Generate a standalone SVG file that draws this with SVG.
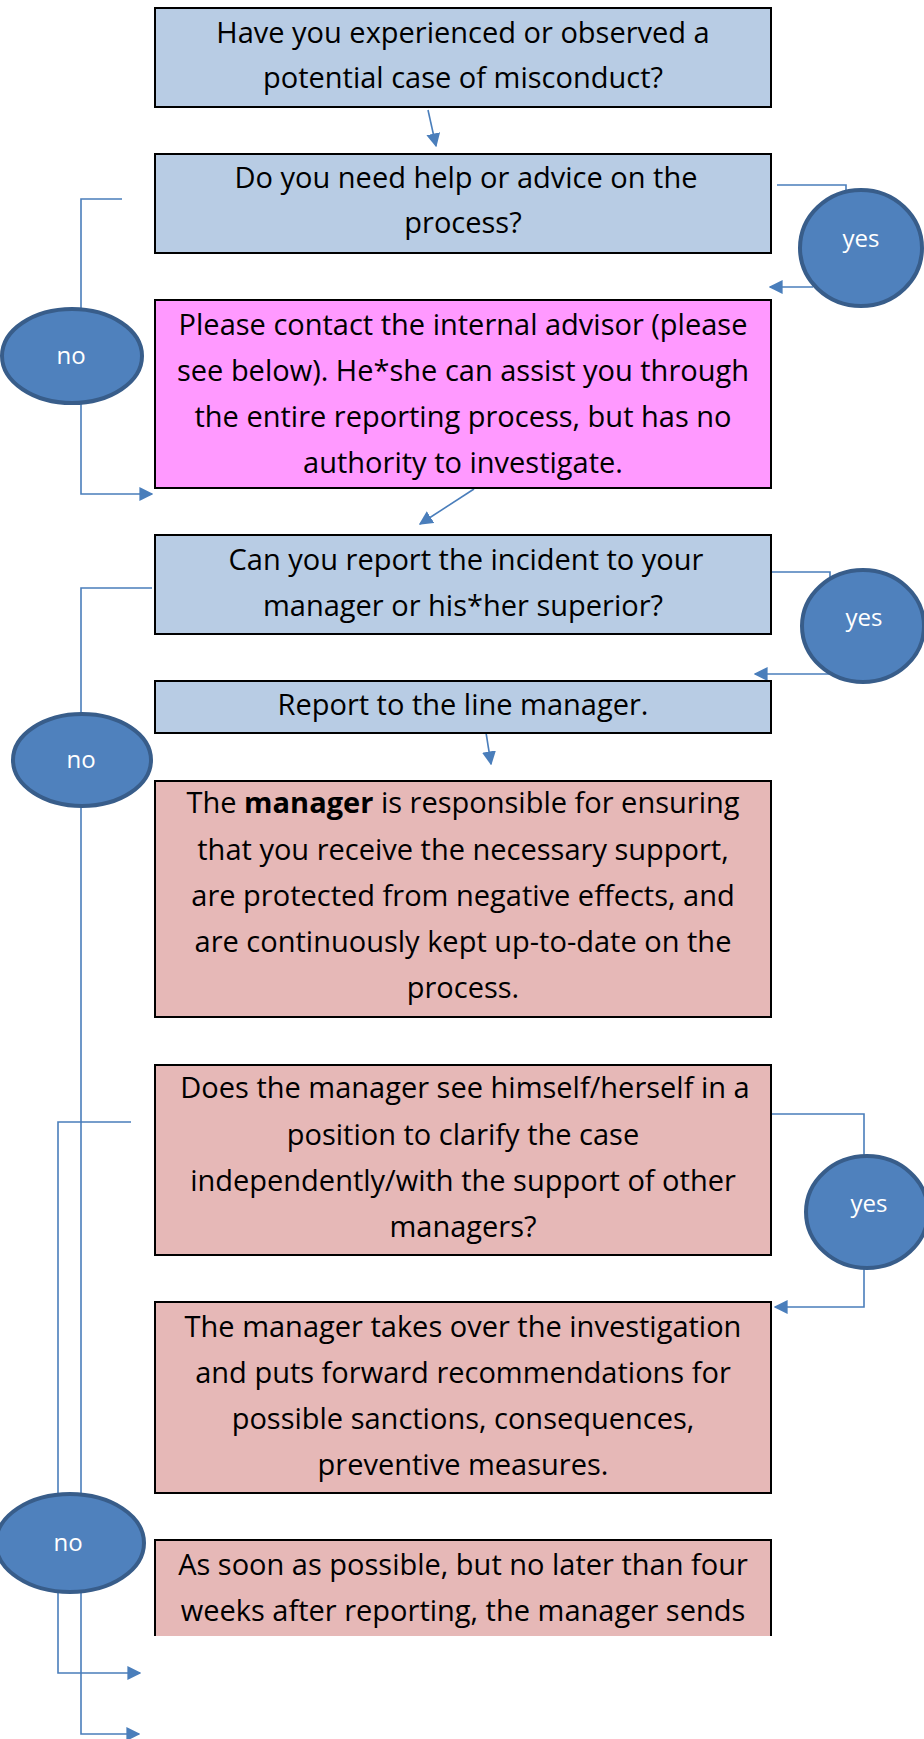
<svg xmlns="http://www.w3.org/2000/svg" width="924" height="1739" viewBox="0 0 924 1739">
<style>
.box{stroke:#000;stroke-width:2}
.blue{fill:#b8cce4}
.pink{fill:#ff99ff}
.rose{fill:#e6b8b7}
.t{font-family:"Open Sans","Liberation Sans",sans-serif;font-size:29px;fill:#000;text-anchor:middle}
.c{fill:#4f81bd;stroke:#385d8a;stroke-width:4}
.cl{font-family:"Open Sans","Liberation Sans",sans-serif;font-size:24px;fill:#fff;text-anchor:middle}
.k{fill:none;stroke:#4a7ebb;stroke-width:1.6}
</style>
<defs>
<marker id="ah2" viewBox="0 0 10 10" refX="9" refY="5" markerWidth="14" markerHeight="14" markerUnits="userSpaceOnUse" orient="auto">
<path d="M0,0 L10,5 L0,10 z" fill="#4a7ebb"/>
</marker>
</defs>
<rect width="924" height="1739" fill="#fff"/>
<g id="connectors">
<line class="k" x1="428" y1="110" x2="436" y2="146" marker-end="url(#ah2)"/>
<polyline class="k" points="122,199 81,199 81,494 152,494" marker-end="url(#ah2)"/>
<polyline class="k" points="777,185 846,185 846,192"/>
<polyline class="k" points="813,287 770,287" marker-end="url(#ah2)"/>
<line class="k" x1="474" y1="489" x2="420" y2="524" marker-end="url(#ah2)"/>
<polyline class="k" points="152,588 81,588 81,1734 139,1734" marker-end="url(#ah2)"/>
<polyline class="k" points="762,572 830,572 830,582"/>
<polyline class="k" points="831,674 755,674" marker-end="url(#ah2)"/>
<line class="k" x1="484" y1="720" x2="491" y2="764" marker-end="url(#ah2)"/>
<polyline class="k" points="131,1122 58,1122 58,1673 140,1673" marker-end="url(#ah2)"/>
<polyline class="k" points="753,1114 864,1114 864,1156"/>
<polyline class="k" points="864,1268 864,1307 775,1307" marker-end="url(#ah2)"/>
</g>
<g id="n1">
<rect class="box blue" x="155" y="8" width="616" height="99"/>
<text class="t" x="463" y="43">Have you experienced or observed a</text>
<text class="t" x="463" y="88">potential case of misconduct?</text>
</g>
<g id="n2">
<rect class="box blue" x="155" y="154" width="616" height="99"/>
<text class="t" x="466" y="188">Do you need help or advice on the</text>
<text class="t" x="463" y="233">process?</text>
</g>
<g id="yes1">
<ellipse class="c" cx="861" cy="248" rx="61" ry="58"/>
<text class="cl" x="861" y="247">yes</text>
</g>
<g id="no1">
<ellipse class="c" cx="72" cy="356" rx="70" ry="47"/>
<text class="cl" x="71" y="364">no</text>
</g>
<g id="n3">
<rect class="box pink" x="155" y="300" width="616" height="188"/>
<text class="t" x="463" y="335">Please contact the internal advisor (please</text>
<text class="t" x="463" y="381">see below). He*she can assist you through</text>
<text class="t" x="463" y="427">the entire reporting process, but has no</text>
<text class="t" x="463" y="473">authority to investigate.</text>
</g>
<g id="n4">
<rect class="box blue" x="155" y="535" width="616" height="99"/>
<text class="t" x="466" y="570">Can you report the incident to your</text>
<text class="t" x="463" y="616">manager or his*her superior?</text>
</g>
<g id="yes2">
<ellipse class="c" cx="863" cy="626" rx="61" ry="56"/>
<text class="cl" x="864" y="626">yes</text>
</g>
<g id="no2">
<ellipse class="c" cx="82" cy="760" rx="69" ry="46"/>
<text class="cl" x="81" y="768">no</text>
</g>
<g id="n5">
<rect class="box blue" x="155" y="681" width="616" height="52"/>
<text class="t" x="463" y="715">Report to the line manager.</text>
</g>
<g id="n6">
<rect class="box rose" x="155" y="781" width="616" height="236"/>
<text class="t" x="463" y="813">The <tspan font-weight="bold">manager</tspan> is responsible for ensuring</text>
<text class="t" x="463" y="860">that you receive the necessary support,</text>
<text class="t" x="463" y="906">are protected from negative effects, and</text>
<text class="t" x="463" y="952">are continuously kept up-to-date on the</text>
<text class="t" x="463" y="998">process.</text>
</g>
<g id="n7">
<rect class="box rose" x="155" y="1065" width="616" height="190"/>
<text class="t" x="465" y="1098">Does the manager see himself/herself in a</text>
<text class="t" x="463" y="1145">position to clarify the case</text>
<text class="t" x="463" y="1191">independently/with the support of other</text>
<text class="t" x="463" y="1237">managers?</text>
</g>
<g id="yes3">
<ellipse class="c" cx="867" cy="1212" rx="61" ry="56"/>
<text class="cl" x="869" y="1212">yes</text>
</g>
<g id="n8">
<rect class="box rose" x="155" y="1302" width="616" height="191"/>
<text class="t" x="463" y="1337">The manager takes over the investigation</text>
<text class="t" x="463" y="1383">and puts forward recommendations for</text>
<text class="t" x="463" y="1429">possible sanctions, consequences,</text>
<text class="t" x="463" y="1475">preventive measures.</text>
</g>
<g id="no3">
<ellipse class="c" cx="70" cy="1543" rx="74" ry="49"/>
<text class="cl" x="68" y="1551">no</text>
</g>
<g id="n9">
<rect class="rose" x="155" y="1540" width="616" height="96"/>
<path d="M155,1636 V1540 H771 V1636" fill="none" stroke="#000" stroke-width="2"/>
<text class="t" x="463" y="1575">As soon as possible, but no later than four</text>
<text class="t" x="463" y="1621">weeks after reporting, the manager sends</text>
</g>
</svg>
